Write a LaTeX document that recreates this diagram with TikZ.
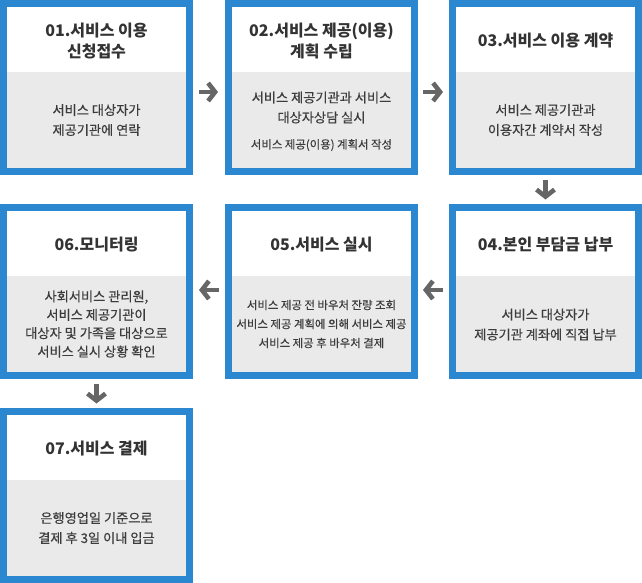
\documentclass[tikz,border=0pt]{standalone}
\usepackage{fontspec}
\newfontfamily\krfont{Noto Sans CJK KR}
\newfontfamily\krtext[FakeBold=0.35]{Noto Sans CJK KR}
\usetikzlibrary{positioning,arrows.meta}
\definecolor{boxblue}{HTML}{2B87CF}
\definecolor{boxgrey}{HTML}{EAEAEA}
\definecolor{titlegrey}{HTML}{333333}
\definecolor{textgrey}{HTML}{3C3C3C}
\definecolor{arrowgrey}{HTML}{666666}
\tikzset{
  stepbox/.style={draw=boxblue, line width=7pt, fill=white, outer sep=3.5pt,
    minimum width=186pt, minimum height=168pt, inner sep=0pt,
    path picture={\fill[boxgrey] (path picture bounding box.south west)
      rectangle ([yshift=99.5pt]path picture bounding box.south east);}},
  steptitle/.style={align=center, text=titlegrey, inner sep=0pt,
    font={\krfont\bfseries\fontsize{16}{21.5}\selectfont}},
  steptext/.style={align=center, text=textgrey, inner sep=0pt,
    font={\krtext\fontsize{13.2}{20}\selectfont}},
  stepnote/.style={align=center, text=textgrey, inner sep=0pt,
    font={\krtext\fontsize{11.4}{19}\selectfont}},
  flow/.style={draw=arrowgrey, line width=4.6pt,
    -{Straight Barb[length=7pt,width=18pt]}}
}
\begin{document}
\begin{tikzpicture}[x=1pt,y=-1pt]
	\useasboundingbox (0,0) rectangle (642,583);
	% boxes
	\node[stepbox] (b1) at (96.5,87.5) {};
	\node[stepbox, right=32pt of b1] (b2) {};
	\node[stepbox, right=31pt of b2] (b3) {};
	\node[stepbox, below=29pt of b3] (b4) {};
	\node[stepbox, left=31pt of b4] (b5) {};
	\node[stepbox, left=32pt of b5] (b6) {};
	\node[stepbox, below=29pt of b6] (b7) {};
	% titles
	\node[steptitle] (t1) at ([yshift=-41pt]b1.north) {01.서비스 이용\\신청접수};
	\node[steptitle] (t2) at ([yshift=-41pt]b2.north) {02.서비스 제공(이용)\\계획 수립};
	\node[steptitle] (t3) at ([yshift=-41pt]b3.north) {03.서비스 이용 계약};
	\node[steptitle] (t4) at ([yshift=-41pt]b4.north) {04.본인 부담금 납부};
	\node[steptitle] (t5) at ([yshift=-41pt]b5.north) {05.서비스 실시};
	\node[steptitle] (t6) at ([yshift=-41pt]b6.north) {06.모니터링};
	\node[steptitle] (t7) at ([yshift=-41pt]b7.north) {07.서비스 결제};
	% texts
	\node[steptext] (d1) at ([yshift=-32.5pt]b1.center) {서비스 대상자가\\제공기관에 연락};
	\node[steptext] (d2) at ([yshift=-20pt]b2.center) {서비스 제공기관과 서비스\\대상자상담 실시};
	\node[stepnote] (n2) at ([yshift=-57.5pt]b2.center) {서비스 제공(이용) 계획서 작성};
	\node[steptext] (d3) at ([yshift=-32.5pt]b3.center) {서비스 제공기관과\\이용자간 계약서 작성};
	\node[steptext] (d4) at ([yshift=-33pt]b4.center) {서비스 대상자가\\제공기관 계좌에 직접 납부};
	\node[stepnote] (d5) at ([yshift=-32.5pt]b5.center) {서비스 제공 전 바우처 잔량 조회\\서비스 제공 계획에 의해 서비스 제공\\서비스 제공 후 바우처 결제};
	\node[steptext, font={\krtext\fontsize{13.2}{18.4}\selectfont}] (d6) at ([yshift=-32.5pt]b6.center) {사회서비스 관리원,\\서비스 제공기관이\\대상자 및 가족을 대상으로\\서비스 실시 상황 확인};
	\node[steptext] (d7) at ([yshift=-32.5pt]b7.center) {은행영업일 기준으로\\결제 후 3일 이내 입금};
	% arrows
	\draw[flow] ([shift={(6pt,-4.5pt)}]b1.east) -- ([shift={(-7pt,-4.5pt)}]b2.west);
	\draw[flow] ([shift={(5pt,-4.5pt)}]b2.east) -- ([shift={(-6pt,-4.5pt)}]b3.west);
	\draw[flow] ([yshift=-4.5pt]b3.south) -- ([yshift=4.5pt]b4.north);
	\draw[flow] ([shift={(-6pt,1.5pt)}]b4.west) -- ([shift={(5pt,1.5pt)}]b5.east);
	\draw[flow] ([shift={(-6pt,1.5pt)}]b5.west) -- ([shift={(6pt,1.5pt)}]b6.east);
	\draw[flow] ([yshift=-4.5pt]b6.south) -- ([yshift=4.5pt]b7.north);
\end{tikzpicture}
\end{document}
